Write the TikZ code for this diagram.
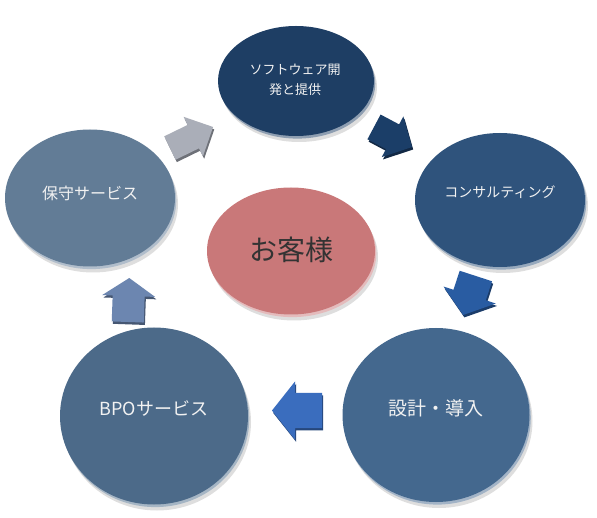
\documentclass[tikz,border=0pt]{standalone}
\usepackage{fontspec}
\setmainfont{Noto Sans CJK JP}
\usetikzlibrary{shapes.geometric,shadows}
\definecolor{cTop}{HTML}{1E3E64}
\definecolor{cCons}{HTML}{2F537C}
\definecolor{cHoshu}{HTML}{627C96}
\definecolor{cCenter}{HTML}{C97879}
\definecolor{cBPO}{HTML}{4C6A89}
\definecolor{cSekkei}{HTML}{44688E}
\definecolor{aGray}{HTML}{AAAEB8}
\definecolor{aNavy}{HTML}{1B3E68}
\definecolor{aBlue}{HTML}{295CA2}
\definecolor{aLeft}{HTML}{3A6DBE}
\definecolor{aUp}{HTML}{6C86B0}
\definecolor{txtW}{HTML}{F2F2F2}
\definecolor{txtD}{HTML}{333333}
% center, angle, length, head length, head width, tail width, colour
\newcommand\blockarrow[7]{%
  \fill[#7!65!black, xshift=1.2pt, yshift=-2.4pt, shift={(#1)}, rotate=#2]
    ({#3/2},0) -- ({#3/2-#4},{#5/2}) -- ({#3/2-#4},{#6/2}) -- ({-#3/2},{#6/2})
    -- ({-#3/2},{-#6/2}) -- ({#3/2-#4},{-#6/2}) -- ({#3/2-#4},{-#5/2}) -- cycle;
  \fill[#7, shift={(#1)}, rotate=#2]
    ({#3/2},0) -- ({#3/2-#4},{#5/2}) -- ({#3/2-#4},{#6/2}) -- ({-#3/2},{#6/2})
    -- ({-#3/2},{-#6/2}) -- ({#3/2-#4},{-#6/2}) -- ({#3/2-#4},{-#5/2}) -- cycle;}
\tikzset{
  disc/.style={ellipse, draw=none, inner sep=0pt, fill=#1,
    general shadow={fill=black, opacity=0.13, shadow xshift=3pt, shadow yshift=-6pt},
    general shadow={fill=#1!50!white, shadow xshift=1.3pt, shadow yshift=-2.6pt}},
  lbl/.style={text=txtW, inner sep=0pt, align=center}
}
\begin{document}
\begin{tikzpicture}[x=1pt,y=-1pt]
\useasboundingbox (0,0) rectangle (597,518);
\fill[white] (0,0) rectangle (597,518);
% discs
\node[disc=cTop, minimum width=156pt, minimum height=110pt] (sw) at (296,81) {};
\node[disc=cCons, minimum width=170pt, minimum height=134pt] (cons) at (500,200) {};
\node[disc=cHoshu, minimum width=170pt, minimum height=137pt] (hoshu) at (90,198) {};
\node[disc=cCenter, minimum width=168pt, minimum height=127pt] (cust) at (291,251) {};
\node[disc=cBPO, minimum width=188pt, minimum height=177pt] (bpo) at (154,416) {};
\node[disc=cSekkei, minimum width=187pt, minimum height=174pt] (sekkei) at (436,415) {};
% labels
\node[lbl, font=\fontsize{13}{20}\selectfont] (tsw) at (295,80) {ソフトウェア開\\発と提供};
\node[lbl, font=\fontsize{14}{16}\selectfont] (tcons) at (500,192) {コンサルティング};
\node[lbl, font=\fontsize{16}{18}\selectfont] (thoshu) at (90,193) {保守サービス};
\node[lbl, text=txtD, font=\fontsize{28}{30}\selectfont] (tcust) at (291,250) {お客様};
\node[lbl, font=\fontsize{18}{20}\selectfont] (tbpo) at (154,408) {BPOサービス};
\node[lbl, font=\fontsize{19}{21}\selectfont] (tsekkei) at (436,408) {設計・導入};
% arrows
\blockarrow{191.5,137.5}{26}{48}{22}{44}{26}{aGray}
\blockarrow{393,137}{-28}{43}{22}{46}{28}{aNavy}
\blockarrow{469.5,295.5}{-108}{41}{21}{55}{34}{aBlue}
\blockarrow{297,410.5}{180}{50}{23}{58}{35}{aLeft}
\blockarrow{128.5,300}{88}{44}{18}{53}{32}{aUp}
\end{tikzpicture}
\end{document}
